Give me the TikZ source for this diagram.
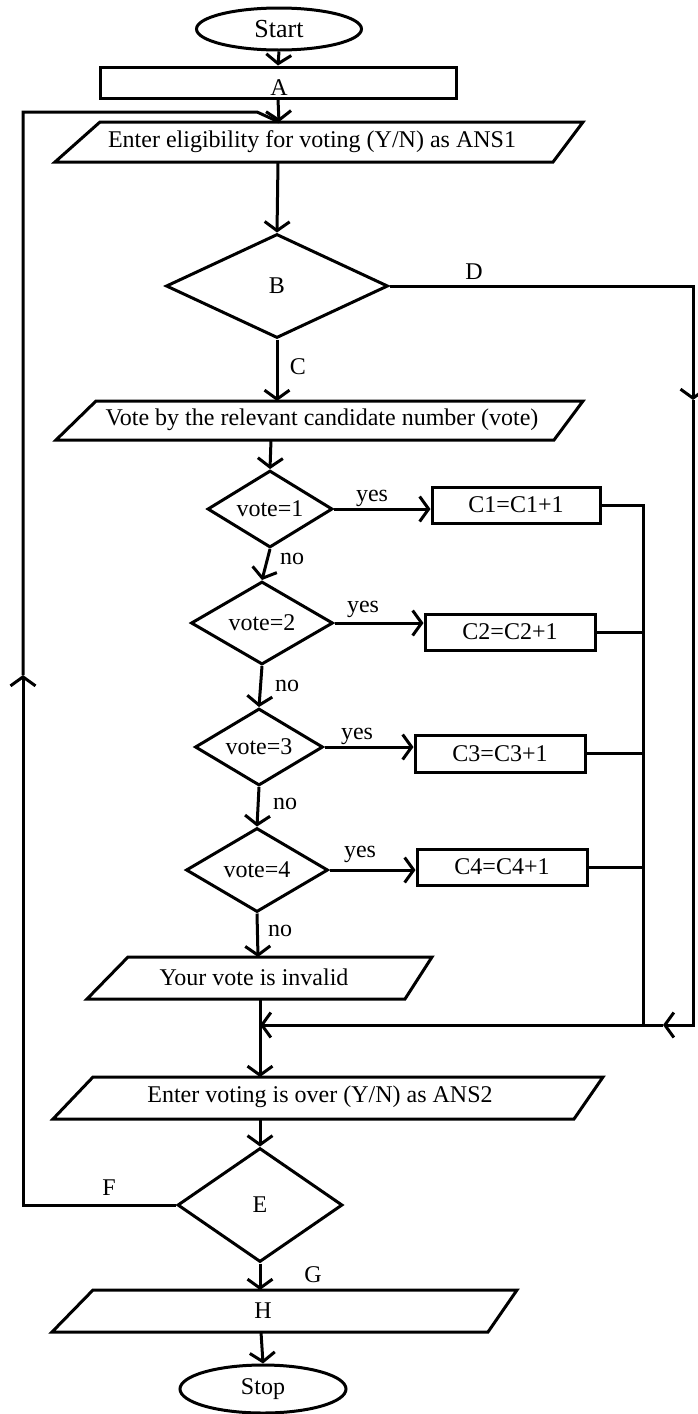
\documentclass[tikz,border=0pt]{standalone}
\usepackage{fontspec}
\setmainfont{Liberation Serif}
\usetikzlibrary{shapes.geometric,arrows.meta}
\begin{document}
\begin{tikzpicture}[x=1pt,y=-1pt,
  line width=3pt,
  txt/.style={inner sep=0pt, font=\fontsize{24}{27}\selectfont},
  term/.style={txt, draw, ellipse},
  proc/.style={txt, draw, rectangle},
  dec/.style={txt, draw, diamond, shape aspect=2},
  arr/.style={-{Straight Barb[length=9pt,width=25pt]}},
  ]
\useasboundingbox (0,0) rectangle (698,1414);

% terminals and boxes
\node[term, minimum width=165pt, minimum height=42pt, font=\fontsize{26}{29}\selectfont] (start) at (279,29) {Start};
\node[proc, minimum width=356pt, minimum height=31pt] (A) at (278,82.5) {};
\node[txt] (Atxt) at (279,88) {A};

% input 1
\draw (100,122) -- (583,122) -- (553,162) -- (55,162) -- cycle;
\node[txt] (in1) at (312,142) {Enter eligibility for voting (Y/N) as ANS1};
\coordinate (in1n) at (279,122);
\coordinate (in1s) at (278,162);

\node[dec, minimum width=222pt, minimum height=104pt] (B) at (277,286) {B};

% vote input
\draw (96,401) -- (583,401) -- (554,440) -- (56,440) -- cycle;
\node[txt] (vin) at (322,420) {Vote by the relevant candidate number (vote)};
\coordinate (vpn) at (277,401);
\coordinate (vps) at (271,440);

% decisions
\node[dec, minimum width=125pt, minimum height=77pt] (d1) at (270,509) {vote=1};
\node[dec, minimum width=142pt, minimum height=83pt] (d2) at (262,623) {vote=2};
\node[dec, minimum width=128pt, minimum height=77pt] (d3) at (259,747) {vote=3};
\node[dec, minimum width=142pt, minimum height=84pt] (d4) at (257,870) {vote=4};

% counters
\node[proc, minimum width=168pt, minimum height=36pt] (c1) at (516,505) {C1=C1+1};
\node[proc, minimum width=170pt, minimum height=36pt] (c2) at (510,632) {C2=C2+1};
\node[proc, minimum width=170pt, minimum height=37pt] (c3) at (500,753.5) {C3=C3+1};
\node[proc, minimum width=170pt, minimum height=36pt] (c4) at (502,867) {C4=C4+1};

% invalid
\draw (128,957) -- (432,957) -- (405,999) -- (87,999) -- cycle;
\node[txt] (inv) at (254,977) {Your vote is invalid};
\coordinate (invn) at (258,957);
\coordinate (invs) at (260,999);

% input 2
\draw (93,1077) -- (603,1077) -- (574,1119) -- (53,1119) -- cycle;
\node[txt] (in2) at (320,1097) {Enter voting is over (Y/N) as ANS2};
\coordinate (in2n) at (260,1077);
\coordinate (in2s) at (260,1119);

\node[dec, minimum width=165pt, minimum height=114pt] (E) at (260,1205) {E};

% output H
\draw (93,1290) -- (517,1290) -- (488,1332) -- (52,1332) -- cycle;
\node[txt] (H) at (263,1311) {H};
\coordinate (hn) at (260,1290);
\coordinate (hs) at (261,1332);

\node[term, minimum width=166pt, minimum height=48pt] (stop) at (263,1389) {Stop};

% helper coordinates
\coordinate (dArr) at (693,400);
\coordinate (mArr) at (663,1025);
\coordinate (mj) at (260,1025);
\coordinate (colB) at (643,1025);
\coordinate (lpArr) at (23,675);
\coordinate (lpTop) at (23,112);
\coordinate (lpJoin) at (257,112);

% connectors
\draw[arr] (start.south) -- (A.north);
\draw[arr] (A.south) -- (in1n);
\draw[arr] (in1s) -- (B.north);
\draw[arr] (B.south) -- (vpn);
\draw[arr] (vps) -- (d1.north);
\draw[arr] (d1.south) -- (d2.north);
\draw[arr] (d2.south) -- (d3.north);
\draw[arr] (d3.south) -- (d4.north);
\draw[arr] (d4.south) -- (invn);

\draw[arr] (d1.east) -- (d1.east -| c1.west);
\draw[arr] (d2.east) -- (d2.east -| c2.west);
\draw[arr] (d3.east) -- (d3.east -| c3.west);
\draw[arr] (d4.east) -- (d4.east -| c4.west);

\draw (c1.east) -| (colB);
\draw (c2.east) -- (c2.east -| colB);
\draw (c3.east) -- (c3.east -| colB);
\draw (c4.east) -- (c4.east -| colB);

\draw[arr] (B.east) -| (dArr);
\draw[arr] (dArr) |- (mArr);
\draw[arr] (mArr) -- (mj);
\draw (invs) -- (mj);
\draw[arr] (mj) -- (in2n);
\draw[arr] (in2s) -- (E.north);
\draw[arr] (E.south) -- (hn);
\draw[arr] (hs) -- (stop.north);

\draw[arr] (E.west) -| (lpArr);
\draw (lpArr) -- (lpTop) -- (lpJoin) -- (in1n);

% labels
\node[txt] (lD) at (474,272) {D};
\node[txt] (lC) at (298,367) {C};
\node[txt] (y1) at (372,498) {yes};
\node[txt] (n1) at (292,559) {no};
\node[txt] (y2) at (363,609) {yes};
\node[txt] (n2) at (287,686) {no};
\node[txt] (y3) at (357,736) {yes};
\node[txt] (n3) at (285,804) {no};
\node[txt] (y4) at (360,854) {yes};
\node[txt] (n4) at (280,931) {no};
\node[txt] (lF) at (109,1188) {F};
\node[txt] (lG) at (313,1275) {G};
\end{tikzpicture}
\end{document}
